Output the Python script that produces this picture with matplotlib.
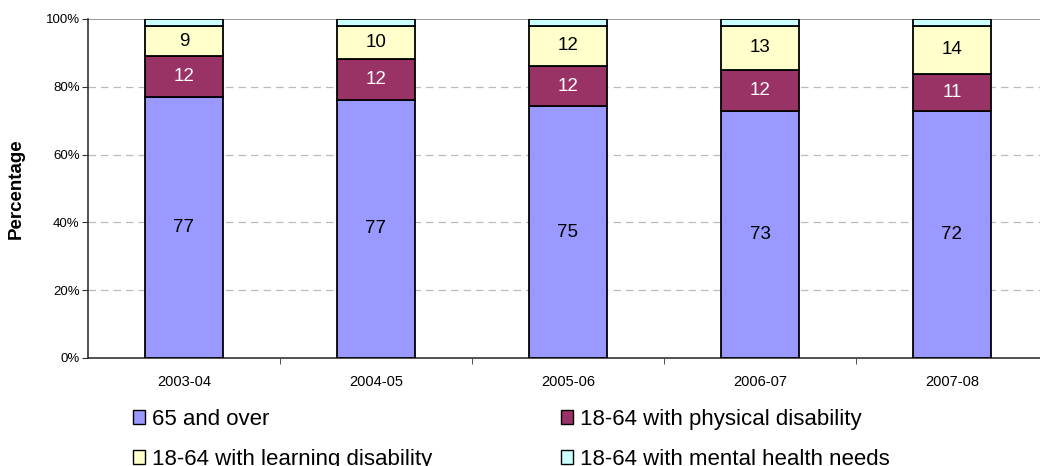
import matplotlib
matplotlib.use("Agg")
import matplotlib.pyplot as plt
import numpy as np
from matplotlib.patches import Patch

plt.rcParams['font.family'] = ['Liberation Sans', 'DejaVu Sans']

years = ["2003-04", "2004-05", "2005-06", "2006-07", "2007-08"]
over_65 = [77, 77, 75, 73, 72]
physical = [12, 12, 12, 12, 11]
learning = [9, 10, 12, 13, 14]
mental = [2, 2, 2, 2, 2]

series_names = ["65 and over", "18-64 with physical disability",
                "18-64 with learning disability", "18-64 with mental health needs"]
colors = ["#9999ff", "#993366", "#ffffcc", "#ccffff"]
text_colors = ["black", "white", "black", None]

data = np.array([over_65, physical, learning, mental], dtype=float)
# 100% stacked: scale each year to its total
pct = data / data.sum(axis=0) * 100

fig = plt.figure(figsize=(10.4, 4.66), dpi=100)
# plot area runs off the right edge, as in the original sheet
ax = fig.add_axes([88 / 1040, 1 - 358 / 466, 960 / 1040, 339 / 466])

x = np.arange(len(years))
bottom = np.zeros(len(years))
for i in range(4):
    ax.bar(x, pct[i], bottom=bottom, width=0.41, color=colors[i],
           edgecolor="black", linewidth=1.3, zorder=3)
    if text_colors[i]:
        for j in range(len(years)):
            ax.text(x[j], bottom[j] + pct[i][j] / 2, f"{data[i][j]:.0f}",
                    ha="center", va="center", fontsize=13.5,
                    color=text_colors[i], zorder=4)
    bottom += pct[i]

ax.set_xlim(-0.5, len(years) - 0.5)
ax.set_ylim(0, 100)
ax.set_yticks([0, 20, 40, 60, 80, 100])
ax.set_yticklabels([f"{v}%" for v in range(0, 101, 20)], fontsize=9.5)
ax.set_xticks(x)
ax.set_xticklabels(years, fontsize=10.5)
ax.set_xticks(np.arange(len(years)) + 0.5, minor=True)
ax.tick_params(axis="x", which="major", length=0, pad=12)
ax.tick_params(axis="x", which="minor", length=4, color="#333333")
ax.tick_params(axis="y", length=4, color="#333333", pad=2)

for v in [20, 40, 60, 80]:
    ax.axhline(v, color="#bbbbbb", linestyle=(0, (6, 4)), linewidth=0.9, zorder=1)
ax.axhline(100, color="#888888", linewidth=1.2, zorder=1)

ax.spines["right"].set_visible(False)
ax.spines["top"].set_visible(False)
ax.spines["left"].set_color("#333333")
ax.spines["bottom"].set_color("#333333")
ax.spines["left"].set_linewidth(1.2)
ax.spines["bottom"].set_linewidth(1.2)

ax.set_ylabel("Percentage", fontsize=13.5, fontweight="bold")
ax.yaxis.set_label_coords(-0.066, 0.5)

handles = [Patch(facecolor=colors[i], edgecolor="black", linewidth=1.0) for i in range(4)]
order = [0, 2, 1, 3]
fig.legend([handles[i] for i in order], [series_names[i] for i in order],
           ncol=2, loc="upper left", bbox_to_anchor=(133 / 1040, 1 - 409 / 466),
           frameon=False, fontsize=16, handlelength=0.55, handleheight=0.55,
           handletextpad=0.3, columnspacing=5.8, labelspacing=0.85, borderpad=0,
           borderaxespad=0)

fig.savefig("out.png", dpi=100)
